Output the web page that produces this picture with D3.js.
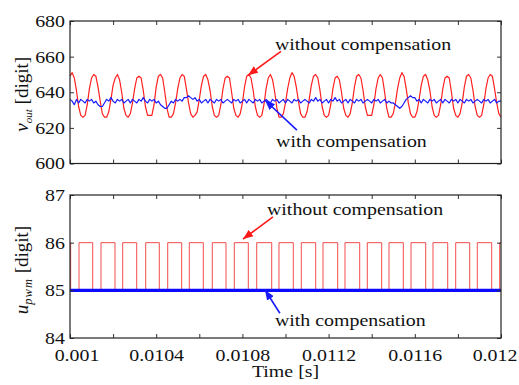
<!DOCTYPE html>
<html><head><meta charset="utf-8">
<script src="https://cdn.jsdelivr.net/npm/d3@7"></script>
<style>
body{margin:0;background:#fff}
svg{display:block}
text{font-family:"Liberation Serif","Times New Roman",serif;fill:#111}
</style>
</head><body><svg id="c" width="519" height="385"></svg>
<script>
// ---- data ----
const sampleStart = 0.01;      // first sample time [s]
const sampleStep = 0.00001;    // sampling interval [s]

const voutWithout = [
 649,
 651, 648, 641, 632, 627, 626, 627, 633, 642, 648,
 650, 649, 643, 635, 628, 626, 626, 629, 636, 644, 648,
 650, 647, 640, 631, 627, 626, 628, 634, 642, 648,
 649, 648, 641, 632, 627, 627, 627, 633, 643, 649,
 650, 648, 640, 631, 626, 626, 628, 634, 642, 648,
 650, 649, 642, 634, 628, 626, 627, 629, 636, 644, 649,
 650, 647, 641, 632, 627, 626, 627, 633, 642, 648,
 649, 648, 640, 631, 627, 626, 628, 634, 643, 649,
 650, 648, 641, 632, 627, 626, 627, 633, 642, 648,
 650, 647, 640, 631, 626, 626, 628, 634, 642, 648,
 651, 649, 643, 635, 628, 626, 626, 629, 636, 644, 649,
 650, 648, 641, 632, 627, 626, 627, 633, 642, 648,
 649, 647, 640, 631, 627, 626, 628, 634, 643, 649,
 650, 648, 641, 632, 627, 627, 627, 633, 642, 648,
 650, 648, 640, 631, 626, 626, 628, 634, 642, 648,
 651, 649, 642, 634, 628, 626, 626, 629, 636, 644, 649,
 650, 647, 641, 632, 627, 626, 627, 633, 642, 648,
 649, 648, 640, 631, 627, 626, 628, 634, 643, 649,
 650, 648, 641, 632, 627, 626, 627, 633, 642, 648,
 650, 649, 642, 634, 628, 626
];

const voutWith = [
 636, 635, 633, 636, 634, 636, 635, 634, 636, 635,
 636, 634, 635, 633, 632, 632, 634, 636, 635, 637,
 635, 634, 636, 635, 636, 634, 635, 636, 634, 636,
 635, 634, 636, 635, 637, 635, 634, 636, 635, 636,
 634, 635, 633, 632, 631, 631, 633, 635, 634, 636,
 635, 636, 635, 637, 637, 638, 637, 636, 637, 635,
 636, 634, 635, 636, 634, 636, 635, 634, 636, 635,
 636, 634, 635, 636, 635, 634, 636, 635, 636, 634,
 635, 636, 634, 636, 635, 634, 636, 635, 636, 634,
 635, 636, 635, 634, 636, 635, 636, 634, 635, 636,
 634, 636, 635, 634, 636, 635, 636, 634, 635, 636,
 635, 634, 636, 635, 637, 635, 636, 634, 635, 636,
 634, 636, 635, 637, 635, 636, 634, 635, 636, 634,
 636, 635, 634, 636, 635, 636, 634, 635, 636, 635,
 634, 636, 635, 636, 634, 635, 636, 634, 635, 634,
 634, 633, 632, 631, 632, 634, 636, 637, 638, 637,
 637, 635, 636, 634, 636, 635, 634, 636, 635, 636,
 634, 635, 636, 634, 636, 635, 634, 636, 635, 636,
 634, 636, 635, 634, 636, 635, 636, 634, 635, 636,
 635, 634, 636, 635, 636, 634, 635, 636, 634, 635,
 635
];

// PWM command without compensation: switching instants and level held after each
const pwmTimes = [
 0.0100000, 0.0100030, 0.0100418, 0.0101053, 0.0101439, 0.0102088, 0.0102445,
 0.0103095, 0.0103513, 0.0104144, 0.0104534, 0.0105183, 0.0105536, 0.0106186,
 0.0106603, 0.0107239, 0.0107624, 0.0108274, 0.0108664, 0.0109360, 0.0109698,
 0.0110362, 0.0110733, 0.0111401, 0.0111740, 0.0112422, 0.0112761, 0.0113443,
 0.0113796, 0.0114464, 0.0114803, 0.0115467, 0.0115824, 0.0116506, 0.0116845,
 0.0117527, 0.0117898, 0.0118548, 0.0118900, 0.0119569, 0.0119940, 0.0120000
];
const pwmLevels = [
 86, 85, 86, 85, 86, 85, 86,
 85, 86, 85, 86, 85, 86, 85,
 86, 85, 86, 85, 86, 85, 86,
 85, 86, 85, 86, 85, 86, 85,
 86, 85, 86, 85, 86, 85, 86,
 85, 86, 85, 86, 85, 86, 86
];
// PWM command with compensation (constant)
const pwmWithTimes = [0.01, 0.012];
const pwmWithLevels = [85, 85];

const xTicks = [0.01, 0.0102, 0.0104, 0.0106, 0.0108, 0.011, 0.0112, 0.0114, 0.0116, 0.0118, 0.012];
const xTickLabels = ["0.001", "", "0.0104", "", "0.0108", "", "0.0112", "", "0.0116", "", "0.012"];
const voutTicks = [600, 620, 640, 660, 680];
const pwmTicks = [84, 85, 86, 87];

// annotations (data coordinates)
const topNotes = [
 {text: "without compensation", color: "#ff1a1a", tx: 0.010951, ty: 664.0, x1: 0.010979, y1: 662.9, x2: 0.010826, y2: 649.5},
 {text: "with compensation",    color: "#1a1aff", tx: 0.010956, ty: 609.2, x1: 0.011053, y1: 618.7, x2: 0.010905, y2: 635.5}
];
const botNotes = [
 {text: "without compensation", color: "#ff1a1a", tx: 0.010914, ty: 86.58, x1: 0.010942, y1: 86.54, x2: 0.010803, y2: 86.077},
 {text: "with compensation",    color: "#1a1aff", tx: 0.010951, ty: 84.25, x1: 0.010974, y1: 84.52, x2: 0.010905, y2: 85.007}
];

// ---- drawing ----
const svg = d3.select("#c");
const L = 70, R = 501;
const P1 = {top: 21, bottom: 163.5};
const P2 = {top: 195, bottom: 338};
const FS = 17, SX = 1.17;

const x = d3.scaleLinear().domain([0.01, 0.012]).range([L, R]);
const y1 = d3.scaleLinear().domain([600, 680]).range([P1.bottom, P1.top]);
const y2 = d3.scaleLinear().domain([84, 87]).range([P2.bottom, P2.top]);

const defs = svg.append("defs");
function clip(id, P){
  defs.append("clipPath").attr("id", id).append("rect")
    .attr("x", L).attr("y", P.top).attr("width", R - L).attr("height", P.bottom - P.top);
}
clip("c1", P1); clip("c2", P2);
[["ar", "#ff1a1a"], ["ab", "#1a1aff"]].forEach(([id, col]) => {
  defs.append("marker").attr("id", id).attr("markerUnits", "userSpaceOnUse")
    .attr("viewBox", "-10 -5 11 10").attr("refX", 0).attr("refY", 0)
    .attr("markerWidth", 11).attr("markerHeight", 10).attr("orient", "auto")
    .append("path").attr("d", "M0,0L-10,-4L-10,4Z").attr("fill", col);
});

function frame(P, y, ticks, showX){
  const g = svg.append("g");
  const ax = g.append("g").attr("transform", `translate(0,${P.bottom})`)
    .call(d3.axisBottom(x).tickValues(xTicks).tickSizeInner(-4).tickSizeOuter(0).tickPadding(11)
      .tickFormat((d, i) => showX ? xTickLabels[i] : ""));
  g.append("g").attr("transform", `translate(0,${P.top})`)
    .call(d3.axisTop(x).tickValues(xTicks).tickSizeInner(-4).tickSizeOuter(0).tickFormat(""));
  const ay = g.append("g").attr("transform", `translate(${L},0)`)
    .call(d3.axisLeft(y).tickValues(ticks).tickSizeInner(-4).tickSizeOuter(0).tickPadding(5).tickFormat(d3.format("d")));
  g.append("g").attr("transform", `translate(${R},0)`)
    .call(d3.axisRight(y).tickValues(ticks).tickSizeInner(-4).tickSizeOuter(0).tickFormat(""));
  g.selectAll(".domain").remove();
  g.selectAll(".tick line").attr("stroke", "#333").attr("stroke-width", 1);
  g.selectAll("text").attr("font-family", null).attr("font-size", FS).attr("fill", "#111");
  ay.selectAll(".tick text").attr("x", -5 / SX).attr("transform", `scale(${SX},1)`);
  ax.selectAll(".tick text").attr("transform", `scale(${SX},1)`)
    .attr("x", (d, i) => (i === 0 ? 6.5 : i === xTicks.length - 1 ? -6.5 : 0) / SX);
  g.append("rect").attr("x", L).attr("y", P.top).attr("width", R - L).attr("height", P.bottom - P.top)
    .attr("fill", "none").attr("stroke", "#222").attr("stroke-width", 1.2);
}

// top panel lines
const line1 = d3.line().x(i => x(sampleStart + i * sampleStep));
svg.append("g").attr("clip-path", "url(#c1)").selectAll("path")
  .data([[voutWithout, "#ff2020"], [voutWith, "#1a1aff"]]).join("path")
  .attr("d", ([arr]) => line1.y(i => y1(arr[i]))(d3.range(arr.length)))
  .attr("fill", "none").attr("stroke", d => d[1]).attr("stroke-width", 1.2).attr("stroke-linejoin", "round");

// bottom panel lines
const stepLine = d3.line().curve(d3.curveStepAfter);
const g2 = svg.append("g").attr("clip-path", "url(#c2)");
g2.append("path")
  .attr("d", stepLine(pwmTimes.map((t, i) => [x(t), y2(pwmLevels[i])])))
  .attr("fill", "none").attr("stroke", "#f23a3a").attr("stroke-width", 1).attr("stroke-opacity", 0.9);
g2.append("path")
  .attr("d", d3.line()(pwmWithTimes.map((t, i) => [x(t), y2(pwmWithLevels[i])])))
  .attr("fill", "none").attr("stroke", "#0a0aff").attr("stroke-width", 3.2);

frame(P1, y1, voutTicks, false);
frame(P2, y2, pwmTicks, true);

function notes(list, y){
  list.forEach(n => {
    svg.append("line").attr("x1", x(n.x1)).attr("y1", y(n.y1)).attr("x2", x(n.x2)).attr("y2", y(n.y2))
      .attr("stroke", n.color).attr("stroke-width", 1.6)
      .attr("marker-end", `url(#${n.color === "#ff1a1a" ? "ar" : "ab"})`);
    svg.append("text").attr("transform", `translate(${x(n.tx)},${y(n.ty)}) scale(${SX},1)`)
      .attr("font-size", FS).text(n.text);
  });
}
notes(topNotes, y1);
notes(botNotes, y2);

// axis titles
function ylab(cy, main, sub, subSize, ls){
  const t = svg.append("text").attr("transform", `translate(27.5,${cy}) rotate(-90)`)
    .attr("text-anchor", "middle").attr("font-size", 19);
  t.append("tspan").attr("font-style", "italic").text(main);
  t.append("tspan").attr("font-style", "italic").attr("font-size", subSize).attr("dy", 4)
    .attr("letter-spacing", ls).text(sub);
  t.append("tspan").attr("dy", -4).text("\u00a0[digit]");
}
ylab((P1.top + P1.bottom) / 2 + 2, "v", "out", 11, 0);
ylab((P2.top + P2.bottom) / 2 + 3.5, "u", "pwm", 12.5, 1);

svg.append("text").attr("transform", `translate(${(L + R) / 2},376.5) scale(${SX},1)`)
  .attr("text-anchor", "middle").attr("font-size", FS).text("Time [s]");
</script>
</body></html>
